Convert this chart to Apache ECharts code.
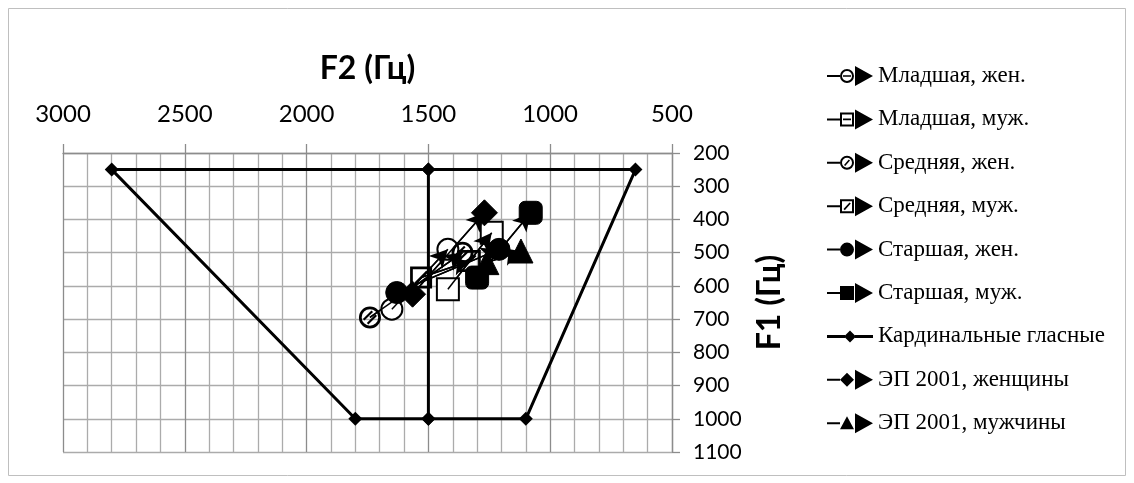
<!DOCTYPE html>
<html>
<head>
<meta charset="utf-8">
<script src="https://cdn.jsdelivr.net/npm/echarts@6/dist/echarts.min.js"></script>
<style>
  html, body { margin: 0; padding: 0; background: #fff; }
  #chart { width: 1134px; height: 483px; }
</style>
</head>
<body>
<div id="chart"></div>
<script>
// Vowel formant shifts: each group goes from its first point to its second (arrow end)
const seriesNames = [
  'Младшая, жен.', 'Младшая, муж.', 'Средняя, жен.', 'Средняя, муж.',
  'Старшая, жен.', 'Старшая, муж.', 'Кардинальные гласные',
  'ЭП 2001, женщины', 'ЭП 2001, мужчины'
];
// [F2, F1] pairs in Hz
const youngFemale  = [[1650, 670], [1420, 490]];
const youngMale    = [[1420, 610], [1240, 440]];
const middleFemale = [[1740, 695], [1360, 500]];
const middleMale   = [[1530, 575], [1330, 525]];
const oldFemale    = [[1630, 620], [1210, 490]];
const oldMale      = [[1300, 575], [1080, 380]];
// Cardinal vowel trapezoid, traced as one path
const cardinalVowels = [[1500, 250], [2800, 250], [1800, 1000], [1500, 1000],
                        [1500, 250], [650, 250], [1100, 1000], [1500, 1000]];
const ep2001Female = [[1565, 625], [1270, 380]];
const ep2001Male   = [[1260, 530], [1120, 495]];

const f2Ticks = { min: 500, max: 3000, step: 500 };
const f1Ticks = { min: 200, max: 1100, step: 100 };

// Marker shapes
const hatchCircle = 'path://M0 10A10 10 0 1 0 20 10A10 10 0 1 0 0 10Z M2.5 10A7.5 7.5 0 1 1 17.5 10A7.5 7.5 0 1 1 2.5 10Z M3.6 11.4L11.4 3.6L12.8 5L5 12.8Z M7.2 15L15 7.2L16.4 8.6L8.6 16.4Z';
const hatchSquare = 'path://M0 0H20V20H0Z M2.5 2.5V17.5H17.5V2.5Z M4 14.4L14.4 4L16 5.6L5.6 16Z';

// Legend icons: lead line, marker, arrow head (46 x 20 box)
const LEAD = 'M0 9H13V11H0Z ';
const ARROW = ' M28 0L46 10L28 20Z';
const RING = 'M13 10A7 7 0 1 0 27 10A7 7 0 1 0 13 10Z M15 10A5 5 0 1 1 25 10A5 5 0 1 1 15 10Z';
const BOX = 'M13 3H27V17H13Z M15 5V15H25V5Z';
const legendIcons = [
  'path://' + LEAD + RING + ' M16 9.2H24V10.8H16Z' + ARROW,
  'path://' + LEAD + BOX + ' M16 9.2H24V10.8H16Z' + ARROW,
  'path://' + LEAD + RING + ' M17 12.2L21.8 6.8L23 7.8L18.2 13.2Z' + ARROW,
  'path://' + LEAD + BOX + ' M16.5 12.8L22.5 6.2L23.8 7.4L17.8 14Z' + ARROW,
  'path://' + LEAD + 'M13 10A7 7 0 1 0 27 10A7 7 0 1 0 13 10Z' + ARROW,
  'path://' + LEAD + 'M13 3H27V17H13Z' + ARROW,
  'path://M0 0H0.01V0.01H0Z M0 19.99H0.01V20H0Z M0 8.5H18V11.5H0Z M17 10L23 4L29 10L23 16Z M28 8.5H46V11.5H28Z',
  'path://' + LEAD + 'M13 10L20 3L27 10L20 17Z' + ARROW,
  'path://' + LEAD + 'M13 16L20 3L27 16Z' + ARROW
];

function shiftSeries(name, pts, symbol, size, style) {
  return {
    name: name,
    type: 'line',
    data: pts,
    symbol: symbol,
    symbolSize: size,
    showSymbol: true,
    itemStyle: Object.assign({ color: '#000', borderColor: '#000' }, style || {}),
    lineStyle: { color: '#000', width: 1.5 },
    emphasis: { disabled: true },
    markLine: {
      silent: true,
      animation: false,
      symbol: ['none', 'arrow'],
      symbolSize: [14, 18],
      label: { show: false },
      lineStyle: { color: '#000', width: 1.5, type: 'solid' },
      emphasis: { disabled: true },
      data: [[{ coord: pts[0] }, { coord: pts[1] }]]
    }
  };
}

const chart = echarts.init(document.getElementById('chart'), null, { renderer: 'canvas' });

const axisGray = '#8c8c8c';
const lightGray = '#ababab';
const plainNumber = v => String(v);

chart.setOption({
  animation: false,
  backgroundColor: '#fff',
  graphic: [{
    type: 'rect',
    shape: { x: 8.5, y: 8.5, width: 1117, height: 467 },
    style: { fill: 'none', stroke: '#bfbfbf', lineWidth: 1 },
    silent: true
  }],
  grid: {
    left: 63, right: 462, top: 153, bottom: 31,
    containLabel: false,
    outerBoundsMode: 'none'
  },
  xAxis: {
    type: 'value',
    position: 'top',
    inverse: true,
    min: f2Ticks.min, max: f2Ticks.max, interval: f2Ticks.step,
    name: 'F2 (Гц)',
    nameLocation: 'middle',
    nameGap: 68,
    nameTextStyle: { fontFamily: 'Lato', fontWeight: 'bold', fontSize: 32, color: '#000' },
    axisLine: { show: true, lineStyle: { color: axisGray, width: 1.3 } },
    axisTick: { show: true, length: 9, lineStyle: { color: axisGray, width: 1.3 } },
    axisLabel: { fontFamily: 'Lato', fontSize: 24, color: '#000', margin: 27, formatter: plainNumber },
    splitLine: { show: true, lineStyle: { color: axisGray, width: 1.3 } },
    minorTick: { show: false, splitNumber: 5 },
    minorSplitLine: { show: true, lineStyle: { color: lightGray, width: 1.3 } }
  },
  yAxis: {
    type: 'value',
    position: 'right',
    inverse: true,
    min: f1Ticks.min, max: f1Ticks.max, interval: f1Ticks.step,
    name: 'F1 (Гц)',
    nameLocation: 'middle',
    nameRotate: 90,
    nameGap: 82,
    nameTextStyle: { fontFamily: 'Lato', fontWeight: 'bold', fontSize: 32, color: '#000' },
    axisLine: { show: true, lineStyle: { color: axisGray, width: 1.3 } },
    axisTick: { show: true, length: 8, lineStyle: { color: axisGray, width: 1.3 } },
    axisLabel: { fontFamily: 'Lato', fontSize: 21, color: '#000', margin: 21, formatter: plainNumber },
    splitLine: { show: true, lineStyle: { color: lightGray, width: 1.3 } }
  },
  legend: {
    orient: 'vertical',
    left: 822,
    top: 58,
    itemWidth: 46,
    itemHeight: 20,
    itemGap: 17.4,
    selectedMode: false,
    textStyle: { fontFamily: 'Liberation Serif', fontSize: 23, color: '#000', lineHeight: 26 },
    data: seriesNames.map((n, i) => ({
      name: n,
      icon: legendIcons[i],
      itemStyle: { color: '#000', borderWidth: 0 }
    }))
  },
  series: [
    shiftSeries(seriesNames[0], youngFemale, 'emptyCircle', 21, { borderWidth: 2.5 }),
    shiftSeries(seriesNames[1], youngMale, 'emptyRect', 22, { borderWidth: 2.5 }),
    shiftSeries(seriesNames[2], middleFemale, hatchCircle, 22, { borderWidth: 0 }),
    shiftSeries(seriesNames[3], middleMale, hatchSquare, 22, { borderWidth: 0 }),
    shiftSeries(seriesNames[4], oldFemale, 'circle', 22),
    shiftSeries(seriesNames[5], oldMale, 'roundRect', 23),
    {
      name: seriesNames[6],
      type: 'line',
      data: cardinalVowels,
      symbol: 'diamond',
      symbolSize: 14,
      itemStyle: { color: '#000' },
      lineStyle: { color: '#000', width: 3 },
      emphasis: { disabled: true }
    },
    shiftSeries(seriesNames[7], ep2001Female, 'diamond', 26),
    shiftSeries(seriesNames[8], ep2001Male, 'triangle', 24)
  ]
});
</script>
</body>
</html>
